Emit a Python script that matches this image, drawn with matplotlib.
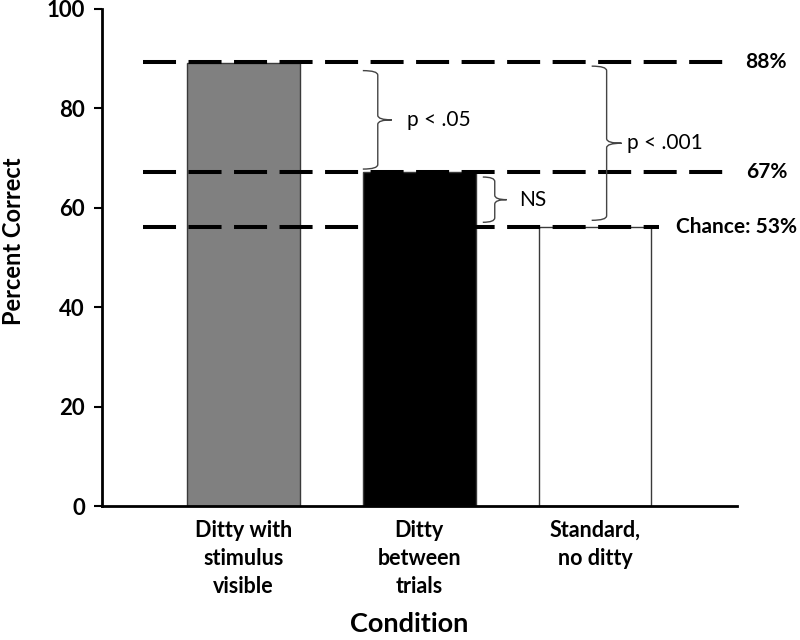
import matplotlib
matplotlib.use("Agg")
import matplotlib.pyplot as plt
from matplotlib.path import Path
from matplotlib.patches import PathPatch

plt.rcParams['font.family'] = ['Lato', 'DejaVu Sans']

categories = ["Ditty with\nstimulus\nvisible", "Ditty\nbetween\ntrials", "Standard,\nno ditty"]
values = [89.2, 67.2, 56.1]
bar_colors = ["#808080", "#000000", "#ffffff"]
ref_levels = [89.4, 67.2, 56.1]
ref_labels = ["88%", "67%", "Chance: 53%"]
# brace annotations: (y_low, y_high, label)
braces = [(67.8, 87.6, "p < .05"), (57.5, 88.5, "p < .001"), (57.1, 66.2, "NS")]

fig = plt.figure(figsize=(8, 6.4), dpi=100)
ax = fig.add_axes([0.127, 0.209, 0.794, 0.777])

x = list(range(len(categories)))
ax.bar(x, values, width=0.64, color=bar_colors, edgecolor="#3a3a3a", linewidth=1.0, zorder=2)

ax.set_xlim(-0.806, 2.805)
ax.set_ylim(0, 100)
ax.set_yticks([0, 20, 40, 60, 80, 100])
ax.set_xticks(x)
ax.set_xticklabels(categories, fontsize=15.5, fontweight="bold", linespacing=1.4)
ax.tick_params(axis="x", length=0, pad=10)
ax.tick_params(axis="y", direction="out", length=6, width=1.5, pad=6, labelsize=16)
for lab in ax.get_yticklabels():
    lab.set_fontweight("bold")
for s in ["top", "right"]:
    ax.spines[s].set_visible(False)
for s in ["left", "bottom"]:
    ax.spines[s].set_linewidth(2)

ax.set_ylabel("Percent Correct", fontsize=17, fontweight="bold", va="center")
ax.yaxis.set_label_coords(-0.139, 0.533)
ax.set_xlabel("Condition", fontsize=19.5, fontweight="bold", va="center")
ax.xaxis.set_label_coords(0.485, -0.237)

# reference dashed lines
line_ends = [2.78, 2.78, 2.36]
label_x = [2.85, 2.86, 2.46]
for lvl, lab, xe, lx in zip(ref_levels, ref_labels, line_ends, label_x):
    ax.plot([-0.57, xe], [lvl, lvl], color="black", lw=2.9,
            linestyle=(0, (8.2, 3.1)), dash_capstyle="butt", zorder=3, clip_on=False)
    ax.text(lx, lvl, lab, fontsize=15, fontweight="bold", ha="left", va="center", clip_on=False)

def draw_brace(ax, xv, hook, tip, y0, y1, r=0.9):
    ym = (y0 + y1) / 2
    xl = xv - hook
    xt = xv + tip
    verts = [
        (xl, y1), (xv, y1), (xv, y1 - r),
        (xv, ym + r), (xv, ym), (xt, ym),
        (xv, ym), (xv, ym - r),
        (xv, y0 + r), (xv, y0), (xl, y0),
    ]
    codes = [Path.MOVETO, Path.CURVE3, Path.CURVE3,
             Path.LINETO, Path.CURVE3, Path.CURVE3,
             Path.CURVE3, Path.CURVE3,
             Path.LINETO, Path.CURVE3, Path.CURVE3]
    ax.add_patch(PathPatch(Path(verts, codes), fill=False, edgecolor="#444444", lw=1.0, zorder=4))

brace_x = [0.764, 2.065, 1.429]
brace_hook = [0.085, 0.085, 0.068]
brace_tip = [0.08, 0.085, 0.068]
text_x = [0.929, 2.18, 1.565]
for (y0, y1, lab), bx, bh, bt, tx in zip(braces, brace_x, brace_hook, brace_tip, text_x):
    draw_brace(ax, bx, bh, bt, y0, y1)
    ax.text(tx, (y0 + y1) / 2, lab, fontsize=15, ha="left", va="center")

fig.savefig("out.png", dpi=100)
